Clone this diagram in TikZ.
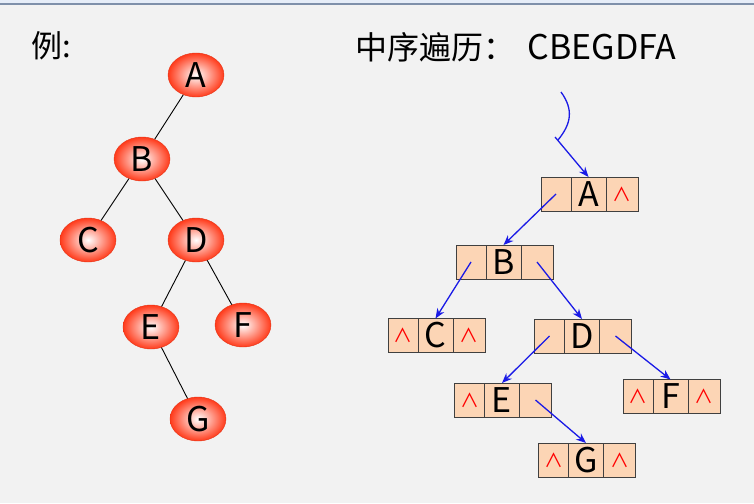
\documentclass[tikz,border=0pt]{standalone}
\usepackage{fontspec}
\setmainfont{Noto Sans CJK SC}
\usetikzlibrary{positioning,arrows.meta,shapes.geometric}
\definecolor{slidebg}{HTML}{F2F2F2}
\definecolor{peach}{HTML}{FCD5B5}
\definecolor{ballred}{HTML}{FF3A1A}
\definecolor{ptrblue}{HTML}{1A1AE6}
\definecolor{barblue}{HTML}{E6EDF8}
\definecolor{barline}{HTML}{7F90AA}
\begin{document}
\begin{tikzpicture}[x=1pt,y=-1pt,
        ball/.style = {ellipse,minimum width=56pt,minimum height=44pt,inner sep=0pt,
                       inner color=white,outer color=ballred,draw=ballred!90!black,
                       font=\fontsize{34}{36}\selectfont},
        cell/.style = {draw=black!75,fill=peach,minimum height=34pt,inner sep=0pt,
                       outer sep=0pt,font=\fontsize{34}{36}\selectfont},
        lcell/.style = {cell,minimum width=30pt},
        mcell/.style = {cell,minimum width=35pt},
        rcell/.style = {cell,minimum width=32pt},
        nil/.style = {text=red,font=\fontsize{19}{21}\selectfont},
        ptr/.style = {ptrblue,line width=1.3pt,-{Stealth[length=10pt,width=8pt]}}]
    \useasboundingbox (0,0) rectangle (754,503);
    \fill[slidebg] (0,0) rectangle (754,503);
    \fill[barblue] (0,0) rectangle (754,4);
    \draw[barline,line width=1.2pt] (0,4) -- (754,4);

    % headings
    \node[anchor=west,font=\fontsize{31}{33}\selectfont] (eg) at (28,46) {例:};
    \node[anchor=west,font=\fontsize{32}{34}\selectfont] (title) at (352,47)
        {中序遍历：\hspace{12pt}{\fontsize{34}{36}\selectfont CBEGDFA}};

    % the tree
    \node[ball] (A) at (196,75)  {A};
    \node[ball] (B) at (142,159) {B};
    \node[ball] (C) at (88,240)  {C};
    \node[ball] (D) at (196,240) {D};
    \node[ball] (E) at (151,327) {E};
    \node[ball] (F) at (243,325) {F};
    \node[ball] (G) at (198,419) {G};
    \begin{scope}[line width=0.9pt]
        \draw (A) -- (B);
        \draw (B) -- (C);
        \draw (B) -- (D);
        \draw (D) -- (E);
        \draw (D) -- (F);
        \draw (E) -- (G);
    \end{scope}

    % binary linked list
    \node[mcell] (Am) at (588.5,194) {A};
    \node[lcell,left=0pt of Am] (Al) {};
    \node[rcell,nil,right=0pt of Am] (Ar) {∧};

    \node[mcell] (Bm) at (503.5,262) {B};
    \node[lcell,left=0pt of Bm] (Bl) {};
    \node[rcell,right=0pt of Bm] (Br) {};

    \node[mcell] (Cm) at (435.5,335.5) {C};
    \node[lcell,nil,left=0pt of Cm] (Cl) {∧};
    \node[rcell,nil,right=0pt of Cm] (Cr) {∧};

    \node[mcell] (Dm) at (582,336) {D};
    \node[lcell,left=0pt of Dm] (Dl) {};
    \node[rcell,right=0pt of Dm] (Dr) {};

    \node[mcell] (Em) at (502,400) {E};
    \node[lcell,nil,left=0pt of Em] (El) {∧};
    \node[rcell,right=0pt of Em] (Er) {};

    \node[mcell] (Fm) at (670.5,396.5) {F};
    \node[lcell,nil,left=0pt of Fm] (Fl) {∧};
    \node[rcell,nil,right=0pt of Fm] (Fr) {∧};

    \node[mcell] (Gm) at (586,460) {G};
    \node[lcell,nil,left=0pt of Gm] (Gl) {∧};
    \node[rcell,nil,right=0pt of Gm] (Gr) {∧};

    % pointers
    \coordinate (root) at (561,92);
    \coordinate (tail) at (555,137);
    \draw[ptrblue,line width=1.3pt] (root) .. controls (574,110) and (571,124) .. (558,140);
    \draw[ptr] (tail) -- (Am.north);
    \draw[ptr] (Al.center) -- (Bm.north);
    \draw[ptr] (Bl.center) -- (Cm.north);
    \draw[ptr] (Br.center) -- (Dm.north);
    \draw[ptr] (Dl.center) -- (Em.north);
    \draw[ptr] (Dr.center) -- (Fm.north);
    \draw[ptr] (Er.center) -- (Gm.north);
\end{tikzpicture}
\end{document}
